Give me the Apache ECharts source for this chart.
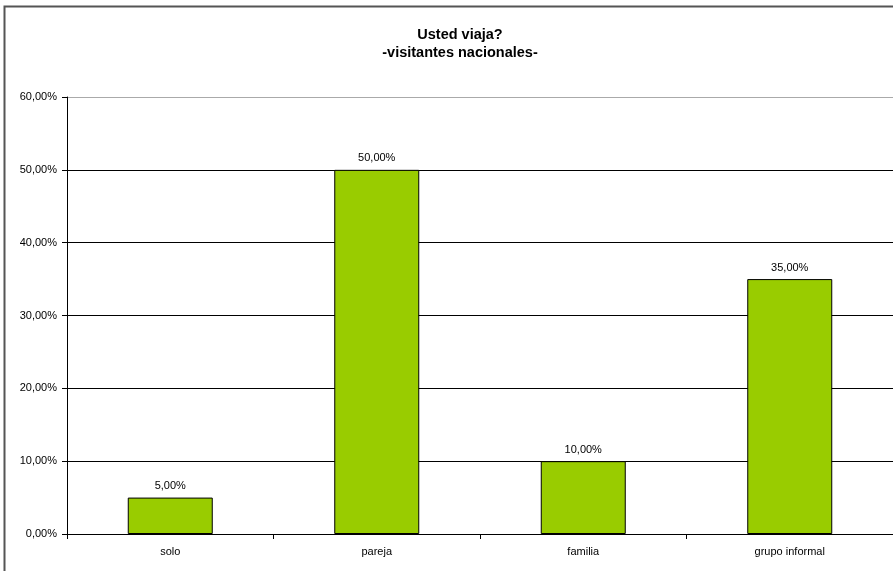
<!DOCTYPE html>
<html><head><meta charset="utf-8">
<script src="https://cdn.jsdelivr.net/npm/echarts@6/dist/echarts.min.js"></script>
<style>html,body{margin:0;padding:0;background:#fff}#c{width:893px;height:571px}</style>
</head><body><div id="c"></div>
<script>
const categories = ['solo', 'pareja', 'familia', 'grupo informal'];
const values = [5, 50, 10, 35];
const yTicks = [0, 10, 20, 30, 40, 50, 60];
const titleLines = ['Usted viaja?', '-visitantes nacionales-'];

const fmt = v => v.toFixed(2).replace('.', ',') + '%';
const chart = echarts.init(document.getElementById('c'), null, {renderer: 'canvas'});
chart.setOption({
  animation: false,
  backgroundColor: '#fff',
  textStyle: {fontFamily: 'Liberation Sans, Arial, sans-serif'},
  graphic: [
    {type: 'rect', shape: {x: 4.5, y: 6.5, width: 1000, height: 1000},
     style: {fill: 'none', stroke: '#555', lineWidth: 2}, silent: true}
  ],
  title: {
    text: titleLines.join('\n'),
    left: 455, top: 21, textAlign: 'center',
    textStyle: {fontSize: 14.5, fontWeight: 'bold', lineHeight: 18, color: '#000', fontFamily: 'Liberation Sans, Arial, sans-serif'}
  },
  grid: {left: 67, top: 97, bottom: 37, right: -6, containLabel: false},
  xAxis: {
    type: 'category', data: categories,
    axisLine: {lineStyle: {color: '#000', width: 1}},
    axisTick: {show: true, length: 5, lineStyle: {color: '#000'}},
    axisLabel: {color: '#000', fontSize: 11, margin: 12}
  },
  yAxis: {
    type: 'value', min: yTicks[0], max: yTicks[yTicks.length - 1], interval: 10,
    axisLine: {show: true, lineStyle: {color: '#000', width: 1}},
    axisTick: {show: true, length: 5, lineStyle: {color: '#000'}},
    axisLabel: {color: '#000', fontSize: 11, margin: 10, formatter: v => fmt(v)},
    splitLine: {lineStyle: {color: ['#000','#000','#000','#000','#000','#000','#aaa'], width: 1}}
  },
  series: [{
    type: 'bar', data: values, barWidth: 85,
    itemStyle: {color: '#99CC00', borderColor: '#000', borderWidth: 1},
    label: {show: true, position: 'top', distance: 6, color: '#000', fontSize: 11, formatter: p => fmt(p.value)}
  }]
});
</script></body></html>
